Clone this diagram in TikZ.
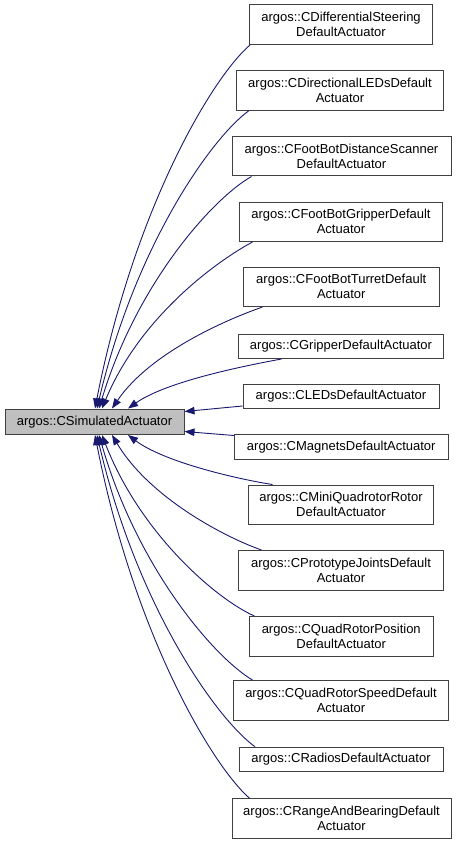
\documentclass[tikz,border=0pt]{standalone}
\usepackage{fontspec}
\setmainfont{Liberation Sans}
\usetikzlibrary{arrows.meta}
\definecolor{edgeblue}{HTML}{191970}
\definecolor{boxline}{HTML}{404040}
\definecolor{basefill}{HTML}{BFBFBF}
\tikzset{
  cls/.style={draw=boxline, line width=1pt, fill=white, align=center, inner sep=0pt,
    font=\fontsize{13}{15}\selectfont, minimum height=39.5pt},
  onecls/.style={cls, minimum height=24.5pt},
  basecls/.style={cls, fill=basefill, minimum height=25.5pt},
  edge/.style={draw=edgeblue, line width=0.9pt, -{Triangle[length=10pt,width=7.5pt]}},
}
\begin{document}
\begin{tikzpicture}[x=1pt,y=-1pt]
\useasboundingbox (0,0) rectangle (456,845);
\node[basecls, minimum width=179pt] (base) at (94.5,421.75) {argos::CSimulatedActuator};

\node[cls, minimum width=183pt] (d1) at (341,24.75) {argos::CDifferentialSteering\\DefaultActuator};
\node[cls, minimum width=207pt] (d2) at (340,90.75) {argos::CDirectionalLEDsDefault\\Actuator};
\node[cls, minimum width=219pt] (d3) at (341.5,156.25) {argos::CFootBotDistanceScanner\\DefaultActuator};
\node[cls, minimum width=203pt] (d4) at (341,221.75) {argos::CFootBotGripperDefault\\Actuator};
\node[cls, minimum width=195.5pt] (d5) at (341.25,286.75) {argos::CFootBotTurretDefault\\Actuator};
\node[onecls, minimum width=205pt] (d6) at (341,346.25) {argos::CGripperDefaultActuator};
\node[onecls, minimum width=196pt] (d7) at (341,396.25) {argos::CLEDsDefaultActuator};
\node[onecls, minimum width=213.5pt, minimum height=25pt] (d8) at (341.25,447) {argos::CMagnetsDefaultActuator};
\node[cls, minimum width=185pt] (d9) at (341,504.75) {argos::CMiniQuadrotorRotor\\DefaultActuator};
\node[cls, minimum width=205pt] (d10) at (341,570.25) {argos::CPrototypeJointsDefault\\Actuator};
\node[cls, minimum width=183.5pt] (d11) at (341.25,636.25) {argos::CQuadRotorPosition\\DefaultActuator};
\node[cls, minimum width=215pt, minimum height=40pt] (d12) at (341,700.5) {argos::CQuadRotorSpeedDefault\\Actuator};
\node[onecls, minimum width=204pt] (d13) at (341,759.5) {argos::CRadiosDefaultActuator};
\node[cls, minimum width=219pt] (d14) at (341.5,818.5) {argos::CRangeAndBearingDefault\\Actuator};

% upper edges
\draw[edge] ([xshift=1pt]d1.south west) .. controls (211.25,78.4) and (133.75,210.3) .. ([xshift=0.5pt]base.north);
\draw[edge] ([xshift=12.5pt]d2.south west) .. controls (211,138.3) and (135,246.3) .. ([xshift=2.5pt]base.north);
\draw[edge] ([xshift=20pt]d3.south west) .. controls (213.75,197.7) and (137.25,282) .. ([xshift=4.5pt]base.north);
\draw[edge] ([xshift=13.5pt]d4.south west) .. controls (215.25,262) and (139.75,317.7) .. ([xshift=7.5pt]base.north);
\draw[edge] ([xshift=19.5pt]d5.south west) .. controls (225.25,320) and (149.75,353.1) .. ([xshift=17.5pt]base.north);
\draw[edge] ([xshift=43.5pt]d6.south west) .. controls (243.5,366) and (166.5,381.5) .. ([xshift=33.5pt]base.north);
\draw[edge] ([yshift=3pt]d7.south west) -- ([yshift=-3pt]base.north east);
\draw[edge] ([yshift=-1.5pt]d8.north west) -- ([yshift=3.5pt]base.south east);
% lower edges
\draw[edge] ([xshift=24.5pt]d9.north west) .. controls (236.75,479) and (164.25,462) .. ([xshift=33.5pt]base.south);
\draw[edge] ([xshift=23.5pt]d10.north west) .. controls (224.5,537) and (149.5,497.7) .. ([xshift=17.5pt]base.south);
\draw[edge] ([xshift=5.5pt]d11.north west) .. controls (216.75,599.6) and (140.25,533.7) .. ([xshift=7.5pt]base.south);
\draw[edge] ([xshift=19.5pt]d12.north west) .. controls (214.5,657.6) and (137.5,568.6) .. ([xshift=4.5pt]base.south);
\draw[edge] ([xshift=16.5pt]d13.north west) .. controls (215.5,717.9) and (136.5,604.8) .. ([xshift=2.5pt]base.south);
\draw[edge] ([xshift=18pt]d14.north west) .. controls (211.25,764.6) and (133.75,632.9) .. ([xshift=0.5pt]base.south);
\end{tikzpicture}
\end{document}
